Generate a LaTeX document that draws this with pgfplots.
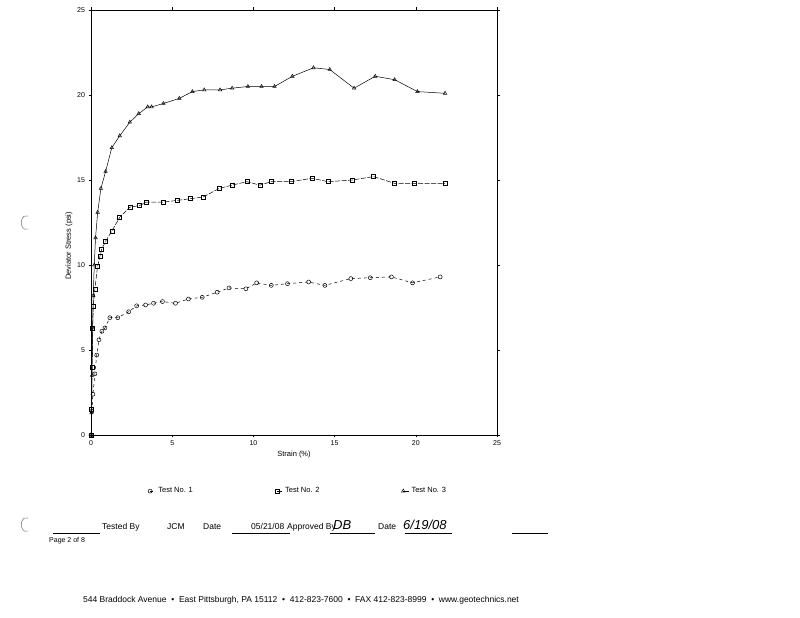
\documentclass[border=0pt]{standalone}
\usepackage{pgfplots}
\pgfplotsset{compat=1.18}
\usepackage{fontspec}
\setmainfont{Liberation Sans}
\begin{document}
\begin{tikzpicture}[x=1pt,y=1pt]
\useasboundingbox[fill=white] (0pt,0pt) rectangle (800pt,618pt);
\begin{axis}[
  at={(91pt,183pt)}, anchor=south west,
  width=406pt, height=425pt, scale only axis,
  xmin=0, xmax=25, ymin=0, ymax=25,
  xtick={0,5,10,15,20,25}, ytick={0,5,10,15,20,25},
  tick align=outside, major tick length=2.5pt,
  tick style={black, line width=0.5pt},
  axis line style={black, line width=0.8pt},
  /pgf/number format/assume math mode=true,
  ticklabel style={font=\fontsize{7}{8}\selectfont},
  xlabel={Strain (\%)}, ylabel={Deviator Stress (psi)},
  label style={font=\fontsize{7.5}{9}\selectfont},
  xlabel style={yshift=2pt},
  ylabel style={at={(ticklabel cs:0.445)}, yshift=-2pt},
  legend columns=3,
  legend style={draw=none, fill=none, at={(axis description cs:0.51,-0.132)}, anchor=center,
    font=\fontsize{7.5}{9}\selectfont, /tikz/every even column/.append style={column sep=80pt}},
  legend image code/.code={\draw[#1] (0pt,0pt) -- (6pt,0pt); \draw[#1, mark repeat=2, mark phase=1] plot coordinates {(0pt,0pt)};},
  every axis plot/.append style={black, line width=0.5pt, mark size=2pt, mark options={solid, fill=white}},
]
\addplot[dashed, mark=o] coordinates {
(0,0) (0.05,1.4) (0.12,2.4) (0.24,3.6) (0.35,4.7) (0.49,5.6) (0.67,6.1) (0.86,6.3) (1.16,6.9) (1.65,6.9)
(2.32,7.25) (2.81,7.6) (3.36,7.65) (3.85,7.75) (4.4,7.85) (5.2,7.75) (6.0,8.0) (6.85,8.1) (7.77,8.4)
(8.5,8.65) (9.54,8.6) (10.2,8.95) (11.1,8.8) (12.1,8.9) (13.4,9.0) (14.4,8.8) (16.0,9.2) (17.2,9.25)
(18.5,9.3) (19.8,8.95) (21.5,9.3)};
\addlegendentry{Test No. 1}
\addplot[dash pattern=on 5pt off 1.5pt, mark=square] coordinates {
(0,0) (0.04,1.5) (0.07,4.0) (0.1,6.3) (0.14,7.6) (0.24,8.6) (0.4,9.9) (0.55,10.5) (0.65,10.9) (0.9,11.4)
(1.28,12.0) (1.77,12.8) (2.39,13.4) (3.0,13.5) (3.43,13.7) (4.46,13.7) (5.32,13.8) (6.12,13.9) (6.91,14.0)
(7.89,14.5) (8.69,14.7) (9.6,14.9) (10.4,14.7) (11.1,14.9) (12.3,14.9) (13.6,15.1) (14.6,14.9) (16.1,15.0)
(17.4,15.2) (18.7,14.8) (19.9,14.8) (21.8,14.8)};
\addlegendentry{Test No. 2}
\addplot[solid, mark=triangle] coordinates {
(0,0) (0.03,1.3) (0.06,3.5) (0.1,6.3) (0.14,8.2) (0.2,10.0) (0.28,11.6) (0.41,13.1) (0.61,14.5) (0.9,15.5)
(1.28,16.9) (1.77,17.6) (2.39,18.4) (2.94,18.9) (3.49,19.3) (3.73,19.3) (4.46,19.5) (5.44,19.8) (6.24,20.2)
(6.97,20.3) (7.95,20.3) (8.69,20.4) (9.66,20.5) (10.5,20.5) (11.3,20.5) (12.4,21.1) (13.7,21.6) (14.7,21.5)
(16.2,20.4) (17.5,21.1) (18.7,20.9) (20.1,20.2) (21.8,20.1)};
\addlegendentry{Test No. 3}
\end{axis}
% footer
\begin{scope}[every node/.style={font=\fontsize{8.5}{10}\selectfont, inner sep=0pt, anchor=base west}]
\node at (102pt,88pt) {Tested By};
\node at (167pt,88pt) {JCM};
\node at (203pt,88pt) {Date};
\node at (251pt,88pt) {05/21/08};
\node at (287pt,88pt) {Approved By};
\node[font=\fontsize{13}{14}\selectfont\itshape] at (333pt,88pt) {DB};
\node at (378pt,88pt) {Date};
\node[font=\fontsize{13}{14}\selectfont\itshape] at (403pt,88pt) {6/19/08};
\node[font=\fontsize{7}{8}\selectfont] at (49pt,75pt) {Page 2 of 8};
\node[font=\fontsize{8.5}{10}\selectfont, anchor=base] at (301pt,15pt) {544 Braddock Avenue \ \textbullet\ \ East Pittsburgh, PA 15112 \ \textbullet\ \ 412-823-7600 \ \textbullet\ \ FAX 412-823-8999 \ \textbullet\ \ www.geotechnics.net};
\end{scope}
\draw[line width=0.6pt] (53pt,85pt) -- (100pt,85pt);
\draw[line width=0.6pt] (232pt,85pt) -- (290pt,85pt);
\draw[line width=0.6pt] (330pt,85pt) -- (375pt,85pt);
\draw[line width=0.6pt] (405pt,85pt) -- (452pt,85pt);
\draw[line width=0.6pt] (512pt,85pt) -- (548pt,85pt);
% punch marks
\draw[line width=0.6pt, gray] (28pt,402pt) arc (70:290:5pt and 7pt);
\draw[line width=0.6pt, gray] (28pt,100pt) arc (70:290:5pt and 7pt);
\end{tikzpicture}
\end{document}
